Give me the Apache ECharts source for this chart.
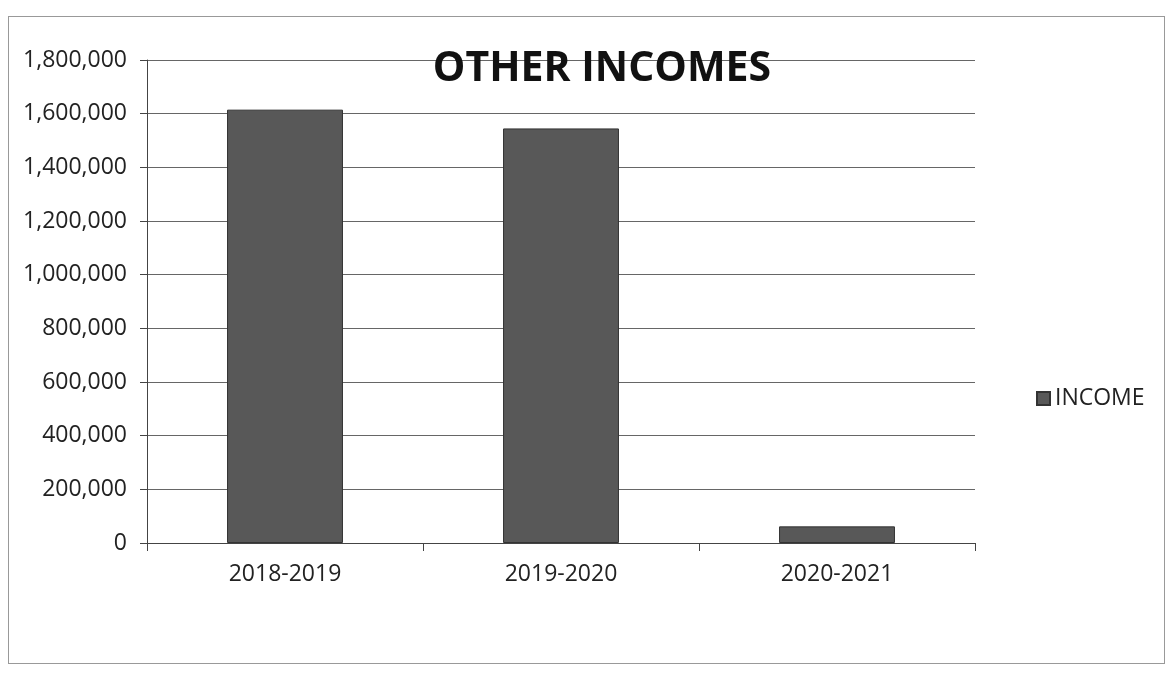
<!DOCTYPE html>
<html>
<head>
<meta charset="utf-8">
<script src="https://cdn.jsdelivr.net/npm/echarts@6/dist/echarts.min.js"></script>
<style>
  html, body { margin: 0; padding: 0; background: #fff; }
  #frame { position: absolute; left: 8px; top: 16px; width: 1157px; height: 648px; border: 1px solid #999; box-sizing: border-box; }
  #chart { position: absolute; left: 0; top: 0; width: 1165px; height: 678px; }
</style>
</head>
<body>
<div id="frame"></div>
<div id="chart"></div>
<script>
const categories = ['2018-2019', '2019-2020', '2020-2021']
const incomeValues = [1615000, 1545000, 62000]
const seriesName = 'INCOME'

const chart = echarts.init(document.getElementById('chart'))
const font = 'Open Sans'

chart.setOption({
  animation: false,
  title: {
    text: 'OTHER INCOMES',
    left: 597,
    top: 44,
    textAlign: 'center',
    textStyle: { fontFamily: font, fontSize: 41, fontWeight: 'bold', color: '#111' },
  },
  legend: {
    data: [{ name: seriesName, icon: 'rect' }],
    left: 1031,
    top: 382,
    orient: 'vertical',
    itemWidth: 13,
    itemHeight: 13,
    itemGap: 6,
    textStyle: { fontFamily: font, fontSize: 23, color: '#222' },
  },
  grid: { left: 147, right: 190, top: 60, bottom: 135 },
  xAxis: {
    type: 'category',
    data: categories,
    axisLine: { lineStyle: { color: '#444', width: 1 } },
    axisTick: { show: true, length: 8, lineStyle: { color: '#444' } },
    axisLabel: { color: '#222', fontFamily: font, fontSize: 23, margin: 20 },
  },
  yAxis: {
    type: 'value',
    min: 0,
    max: 1800000,
    interval: 200000,
    axisLine: { show: true, lineStyle: { color: '#444' } },
    axisTick: { show: true, length: 7, lineStyle: { color: '#444' } },
    axisLabel: {
      color: '#222', fontFamily: font, fontSize: 23, margin: 20,
      formatter: v => v.toLocaleString('en-US'),
    },
    splitLine: { lineStyle: { color: '#666', width: 1 } },
  },
  series: [
    {
      name: seriesName,
      type: 'bar',
      data: incomeValues,
      barCategoryGap: '58%',
      itemStyle: { color: '#585858', borderColor: '#333', borderWidth: 1 },
    },
  ],
})
</script>
</body>
</html>
